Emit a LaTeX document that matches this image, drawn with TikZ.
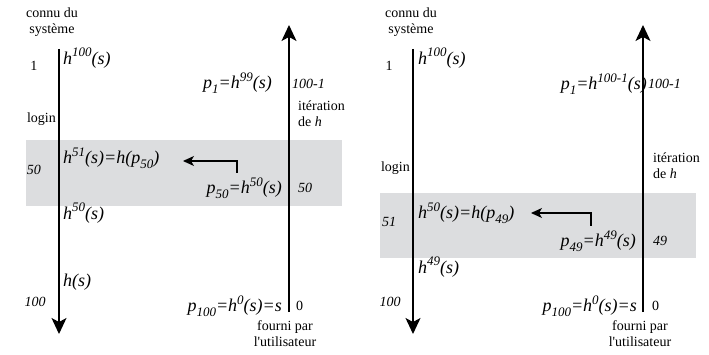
\documentclass[tikz,border=0pt]{standalone}
\usepackage{fontspec}
\setmainfont{Liberation Serif}
\usetikzlibrary{arrows.meta}
\newcommand\myup[1]{\raisebox{0.42em}{\fontsize{13}{13}\selectfont #1}}
\newcommand\mydn[1]{\raisebox{-0.26em}{\fontsize{13}{13}\selectfont #1}}
\definecolor{bandgray}{RGB}{220,221,223}
\tikzset{
  lbl/.style={inner sep=0pt, font=\fontsize{14}{16}\selectfont},
  mth/.style={inner sep=0pt, font=\fontsize{18}{20}\selectfont\itshape},
  num/.style={inner sep=0pt, font=\fontsize{14}{16}\selectfont\itshape},
  axis/.style={line width=1.3pt},
  tip/.style={-{Stealth[length=16pt,width=15pt,inset=4pt]}},
  conn/.style={line width=1.2pt,-{Stealth[length=11pt,width=10pt,inset=3pt]}},
  band/.style={fill=bandgray, draw=none}
}
\begin{document}
\begin{tikzpicture}[x=1pt,y=-1pt]
\useasboundingbox (0,0) rectangle (709,355);
% ---------- left panel ----------
\fill[band] (26,140) rectangle (342,206);
\node[lbl, align=center] (Lknown) at (52,22) {connu du\\système};
\coordinate (LAtop) at (59,49);
\coordinate (LAbot) at (59,334);
\draw[axis,tip] (LAtop) -- (LAbot);
\coordinate (RAbot) at (289,312);
\coordinate (RAtop) at (289,25);
\draw[axis,tip] (RAbot) -- (RAtop);
\node[lbl] (L1) at (34,66) {1};
\node[mth, anchor=west] (Lh100) at (63,58) {h\myup{100}(s)};
\node[lbl, anchor=east] (Llogin) at (56,119) {login};
\node[num] (L50) at (34,170) {50};
\node[mth, anchor=west] (Lh51) at (63,158) {h\myup{51}(s)=h(p\mydn{50})};
\node[mth, anchor=east] (Lp50) at (282,188) {p\mydn{50}=h\myup{50}(s)};
\node[num, anchor=west] (Lr50) at (298,188) {50};
\coordinate (Lc1) at (237,173);
\coordinate (Lc2) at (237,161);
\coordinate (Lc3) at (183,161);
\draw[conn] (Lc1) -- (Lc2) -- (Lc3);
\node[mth, anchor=east] (Lp1) at (272,83) {p\mydn{1}=h\myup{99}(s)};
\node[num, anchor=west] (Lr1) at (292,84) {100-1};
\node[lbl, align=left, anchor=west] (Liter) at (298,114) {itération\\de \textit{h}};
\node[mth, anchor=west] (Lh50) at (63,213) {h\myup{50}(s)};
\node[mth, anchor=west] (Lhs) at (63,282) {h(s)};
\node[num] (L100) at (35,302) {100};
\node[mth, anchor=east] (Lp100) at (282,306) {p\mydn{100}=h\myup{0}(s)=s};
\node[lbl, anchor=west] (Lr0) at (296,306) {0};
\node[lbl, align=center] (Lfourni) at (285,334) {fourni par\\l\textquotesingle utilisateur};
% ---------- right panel ----------
\fill[band] (380,193) rectangle (696,258);
\node[lbl, align=center] (Rknown) at (411,22) {connu du\\système};
\coordinate (RLtop) at (413,49);
\coordinate (RLbot) at (413,334);
\draw[axis,tip] (RLtop) -- (RLbot);
\coordinate (RRbot) at (643,312);
\coordinate (RRtop) at (643,25);
\draw[axis,tip] (RRbot) -- (RRtop);
\node[lbl] (R1) at (389,66) {1};
\node[mth, anchor=west] (Rh100) at (418,58) {h\myup{100}(s)};
\node[mth, anchor=east] (Rp1) at (647,84) {p\mydn{1}=h\myup{100-1}(s)};
\node[num, anchor=west] (Rr1) at (648,84) {100-1};
\node[lbl, align=left, anchor=west] (Riter) at (653,166) {itération\\de \textit{h}};
\node[lbl, anchor=east] (Rlogin) at (410,168) {login};
\node[num] (R51) at (389,222) {51};
\node[mth, anchor=west] (Rh50) at (418,213) {h\myup{50}(s)=h(p\mydn{49})};
\coordinate (Rc1) at (591,226);
\coordinate (Rc2) at (591,213);
\coordinate (Rc3) at (531,213);
\draw[conn] (Rc1) -- (Rc2) -- (Rc3);
\node[mth, anchor=east] (Rp49) at (636,241) {p\mydn{49}=h\myup{49}(s)};
\node[num, anchor=west] (Rr49) at (653,241) {49};
\node[mth, anchor=west] (Rh49) at (418,267) {h\myup{49}(s)};
\node[num] (R100) at (390,302) {100};
\node[mth, anchor=east] (Rp100) at (637,306) {p\mydn{100}=h\myup{0}(s)=s};
\node[lbl, anchor=west] (Rr0) at (652,306) {0};
\node[lbl, align=center] (Rfourni) at (640,334) {fourni par\\l\textquotesingle utilisateur};
\end{tikzpicture}
\end{document}
